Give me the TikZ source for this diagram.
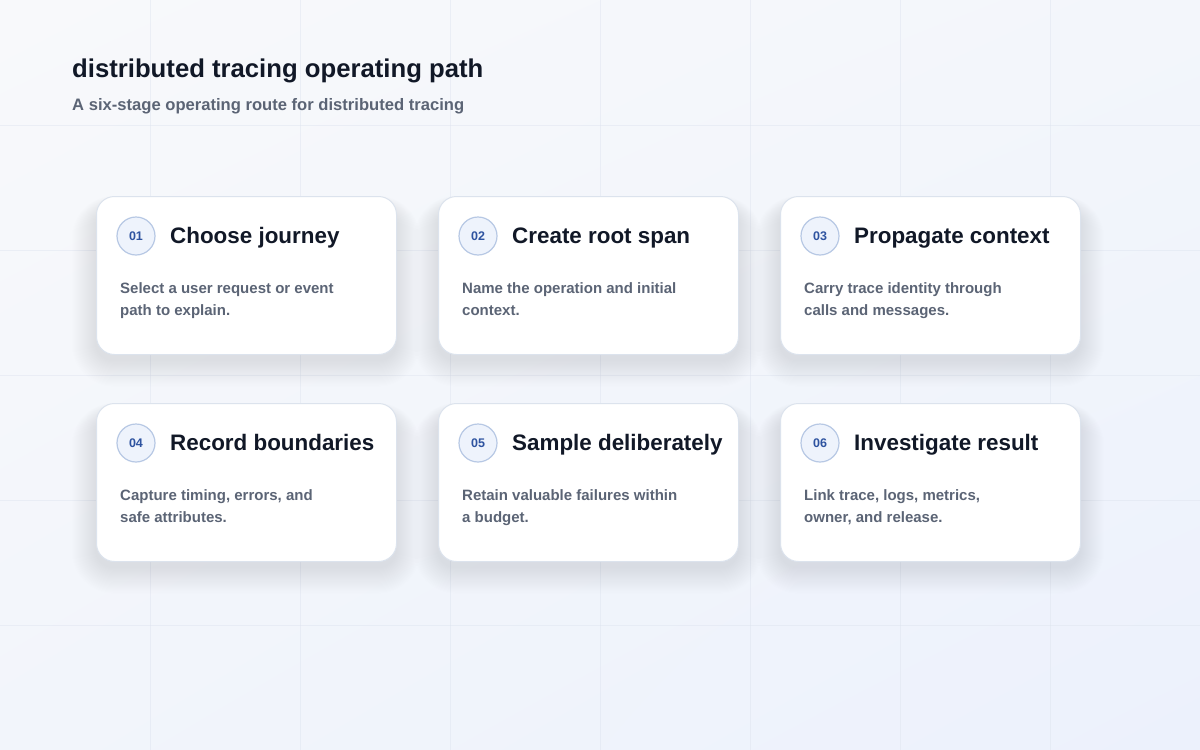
\documentclass[tikz,border=0pt]{standalone}
\usepackage{fontspec}
\setmainfont{Liberation Sans}
\usetikzlibrary{positioning,shadings}
\definecolor{bgtl}{HTML}{F8F9FB}
\definecolor{bgtr}{HTML}{F3F6FB}
\definecolor{bgbl}{HTML}{F2F5FB}
\definecolor{bgbr}{HTML}{ECF1FC}
\definecolor{gridc}{HTML}{DDE3EE}
\definecolor{inkc}{HTML}{111827}
\definecolor{mutedc}{HTML}{5B6475}
\definecolor{cardline}{HTML}{DCE3ED}
\definecolor{shadowc}{HTML}{8593B5}
\definecolor{badgefill}{HTML}{EEF3FC}
\definecolor{badgeline}{HTML}{B7C8E4}
\definecolor{badgetext}{HTML}{2E53A0}
\tikzset{
  gridline/.style={draw=gridc, line width=1, opacity=.45},
  maintitle/.style={inner sep=0, text=inkc, font=\bfseries\fontsize{25.7}{31}\selectfont},
  subtitle/.style={inner sep=0, text=mutedc, font=\bfseries\fontsize{16.6}{20}\selectfont},
  card/.style={draw=cardline, line width=1, fill=white, rounded corners=18, minimum width=300, minimum height=158, anchor=north west, inner sep=0},
  badge/.style={circle, minimum size=38, inner sep=0, fill=badgefill, draw=badgeline, line width=1.2, text=badgetext, font=\bfseries\fontsize{12.5}{13}\selectfont},
  stagetitle/.style={inner sep=0, anchor=base west, text=inkc, font=\bfseries\fontsize{22.4}{27}\selectfont},
  stagedesc/.style={inner sep=0, anchor=base west, align=left, text=mutedc, font=\bfseries\fontsize{15}{22}\selectfont}
}
\begin{document}
\begin{tikzpicture}[x=1pt,y=-1pt, line join=round, line cap=round]
  \def\cw{300} \def\ch{158}
  \useasboundingbox (0,0) rectangle (1200,750);
  \shade[upper left=bgtl, upper right=bgtr, lower left=bgbl, lower right=bgbr] (0,0) rectangle (1200,750);
  \foreach \x in {150,300,...,1050} \draw[gridline] (\x,0)--(\x,750);
  \foreach \y in {125,250,...,625} \draw[gridline] (0,\y)--(1200,\y);
  \node[maintitle, anchor=base west] (title) at (72,77) {distributed tracing operating path};
  \node[subtitle, anchor=base west] (subtitle) at (72,110) {A six-stage operating route for distributed tracing};
  % stage cards
  \foreach \n/\x/\y/\t/\d in {
      01/96/196/Choose journey/{Select a user request or event\\path to explain.},
      02/438/196/Create root span/{Name the operation and initial\\context.},
      03/780/196/Propagate context/{Carry trace identity through\\calls and messages.},
      04/96/403/Record boundaries/{Capture timing, errors, and\\safe attributes.},
      05/438/403/Sample deliberately/{Retain valuable failures within\\a budget.},
      06/780/403/Investigate result/{Link trace, logs, metrics,\\owner, and release.}}{
    \foreach \i in {1,...,24}
      \fill[shadowc, opacity=.009, rounded corners=18+\i] (\x-\i,\y+12-\i*0.5) rectangle (\x+\cw+\i,\y+\ch+6+\i*1.1);
    \node[card] (c\n) at (\x,\y) {};
    \node[badge] (b\n) at ([shift={(40,40)}]c\n.north west) {\n};
    \node[stagetitle] (t\n) at ([shift={(74,47)}]c\n.north west) {\t};
    \node[stagedesc] (d\n) at ([shift={(24,119)}]c\n.north west) {\d};
  }
\end{tikzpicture}
\end{document}
